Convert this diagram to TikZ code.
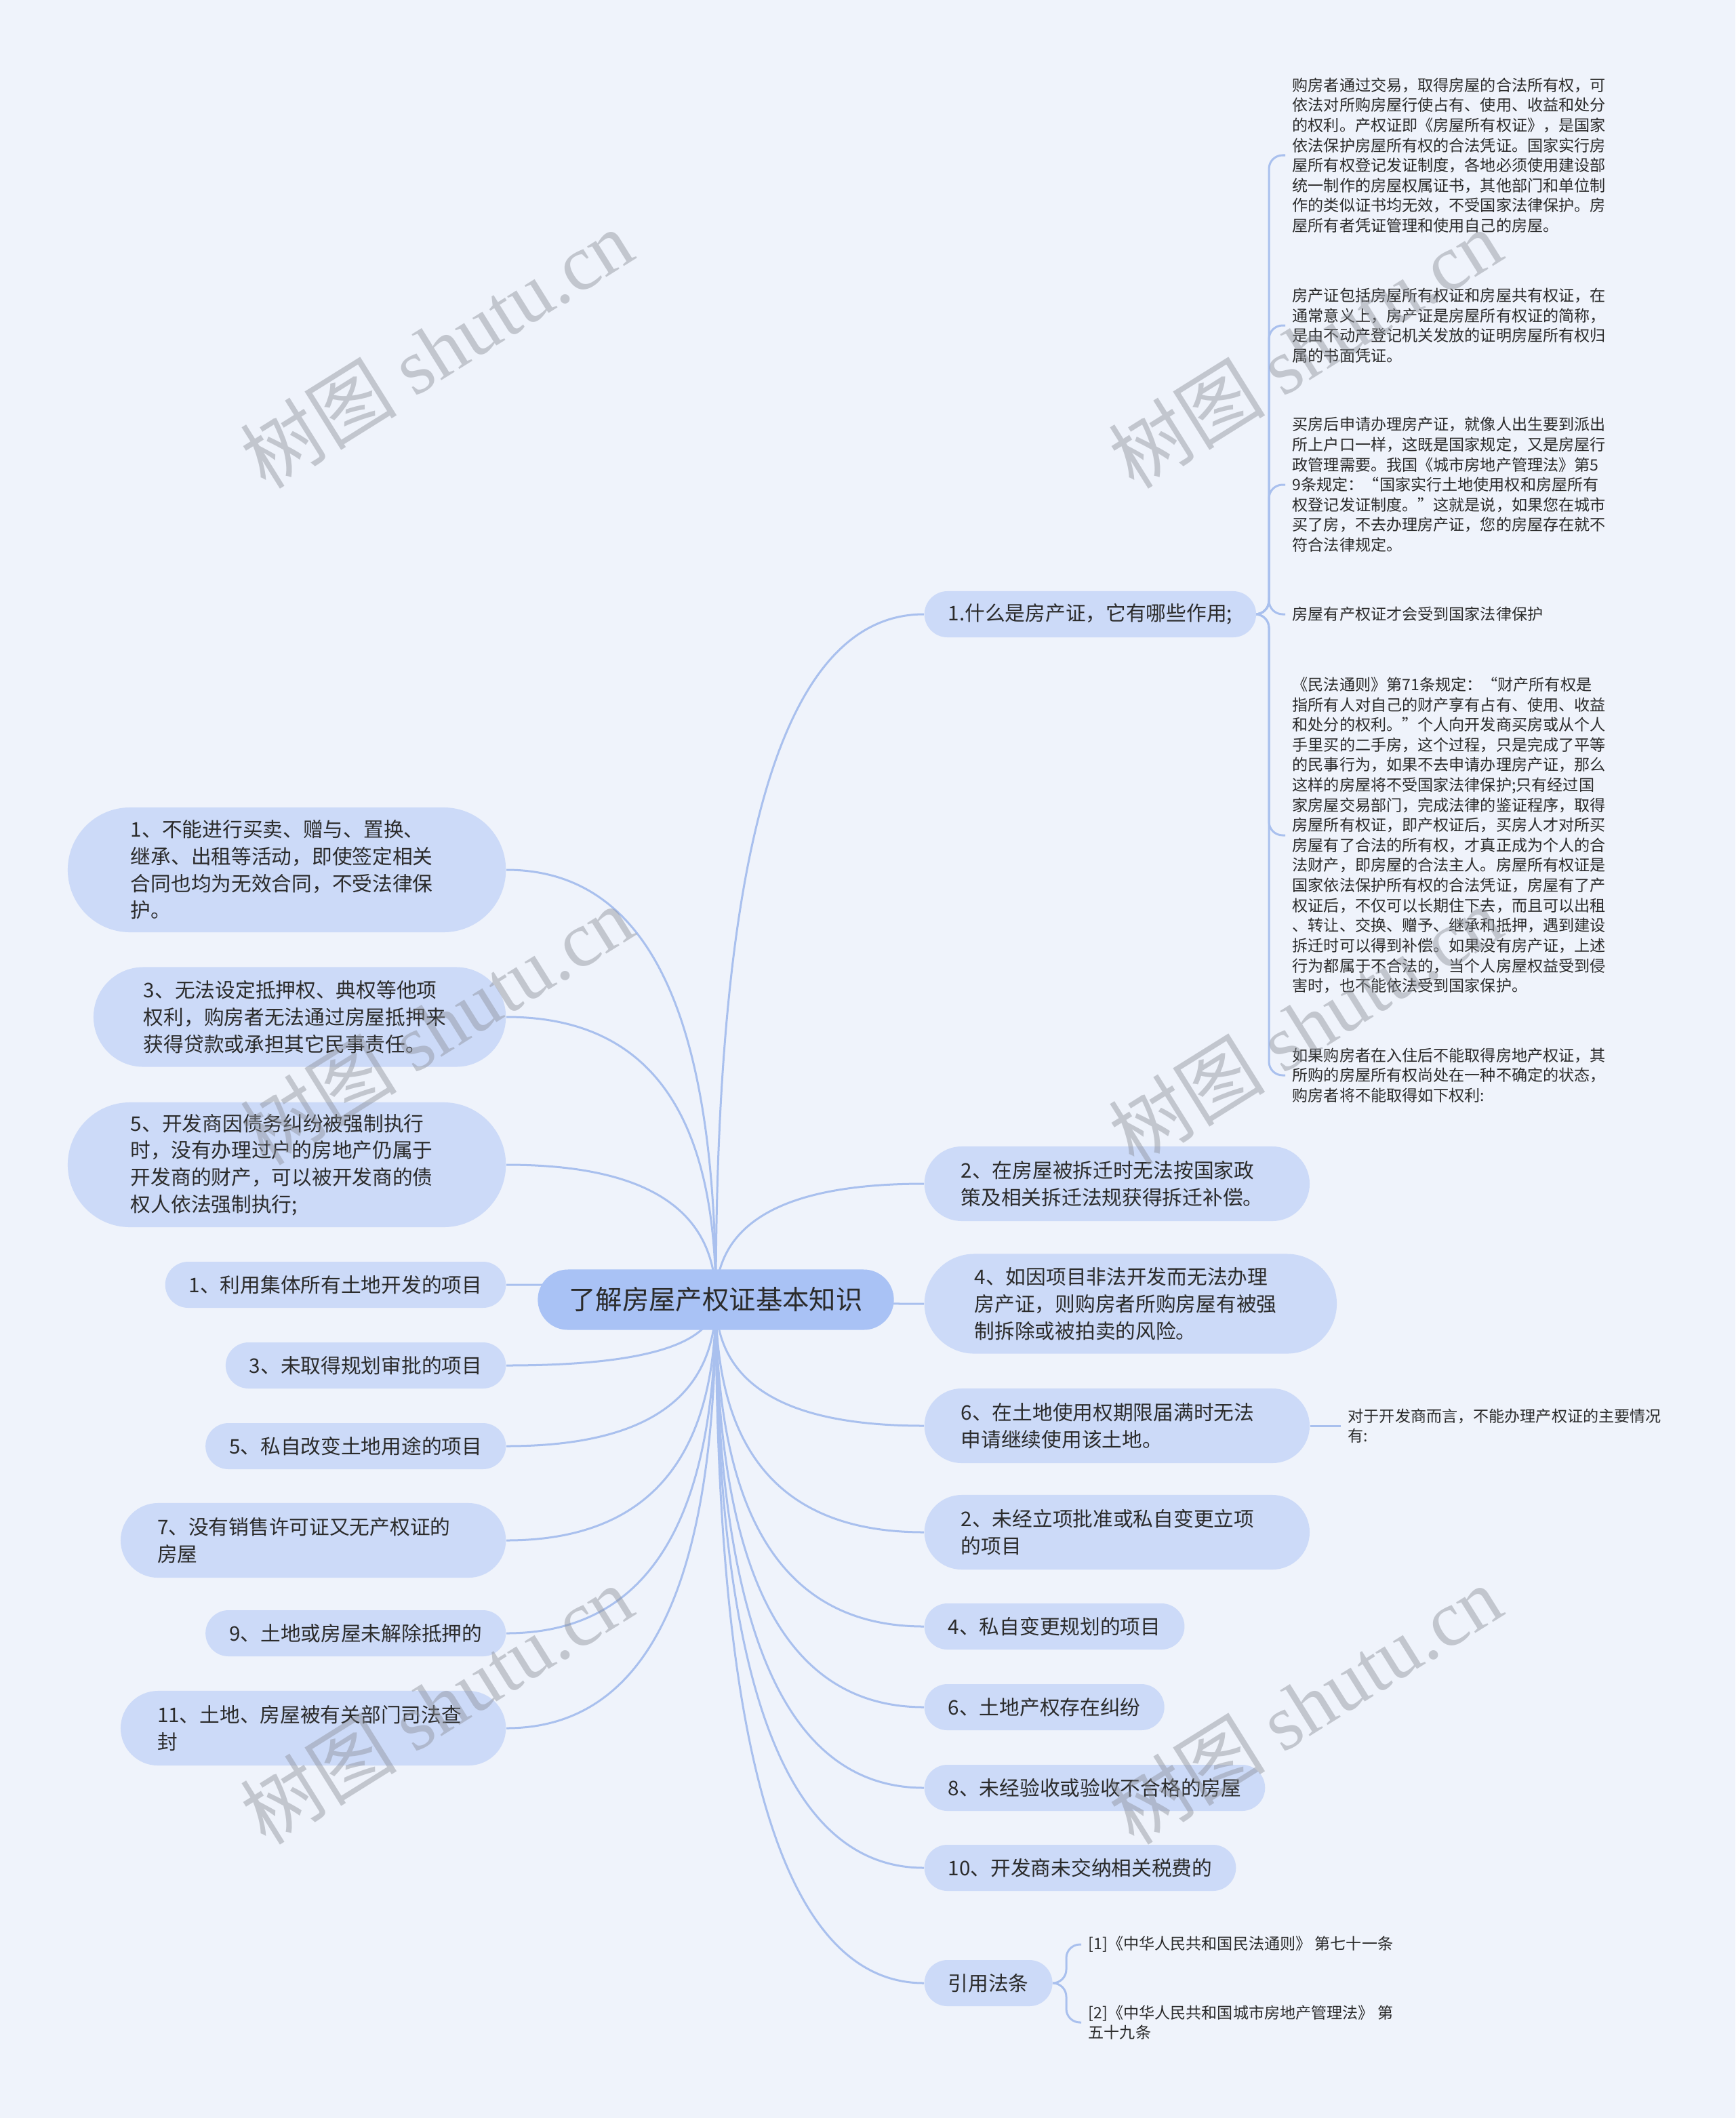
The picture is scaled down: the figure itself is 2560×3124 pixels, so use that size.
\documentclass[tikz,border=0pt]{standalone}
\usepackage{fontspec}
\setmainfont{Noto Sans CJK SC}
\newfontfamily\wmserif{Liberation Serif}
\usetikzlibrary{calc,backgrounds}
\definecolor{PageBg}{HTML}{EFF3FB}
\definecolor{TopicFill}{HTML}{CCDAF8}
\definecolor{RootFill}{HTML}{A9C2F5}
\definecolor{LinkBlue}{HTML}{A9C0EE}
\definecolor{InkGray}{HTML}{2B2B2B}
\definecolor{MarkGray}{HTML}{8C9099}

% curved branch from the central topic to a side topic
\newcommand\branch[2]{\draw[link] (#1) .. controls ($(#1)!.67!(#1 |- #2)$) and ($(#2)!.67!(#1 |- #2)$) .. (#2);}

\tikzset{
  topic/.style={fill=TopicFill,text=InkGray,font=\fontsize{8.45}{11.3}\selectfont,
        align=left,inner ysep=.1cm},
  oneline/.style={topic,minimum height=.68cm,rounded corners=.34cm,inner xsep=.35cm},
  twoline/.style={topic,text width=4.6cm,minimum height=1.1cm,rounded corners=.55cm,inner xsep=.54cm},
  threeline/.style={topic,text width=4.6cm,minimum height=1.47cm,rounded corners=.735cm,inner xsep=.74cm},
  fourline/.style={topic,text width=4.6cm,minimum height=1.84cm,rounded corners=.92cm,inner xsep=.93cm},
  leaf/.style={anchor=west,align=left,inner sep=.1cm,text=InkGray,font=\fontsize{6.57}{8.42}\selectfont},
  link/.style={draw=LinkBlue,line width=.03cm},
  watermark/.style={rotate=32,text=MarkGray,opacity=.45,font=\fontsize{33}{33}\selectfont}
}

\begin{document}
\begin{tikzpicture}[x=.01cm,y=-.01cm]
  \useasboundingbox (0,0) rectangle (2560,3124);

  % tema central
  \node[fill=RootFill,text=InkGray,rounded corners=.445cm,minimum height=.89cm,
        inner xsep=.46cm,font=\fontsize{11.2}{14}\selectfont] (root) at (1056,1917) {了解房屋产权证基本知识};

  % lado derecho
  \node[oneline,anchor=west] (R1) at (1363,906) {1.什么是房产证，它有哪些作用;};
  \node[twoline,anchor=west] (R2) at (1363,1746) {2、在房屋被拆迁时无法按国家政\\策及相关拆迁法规获得拆迁补偿。};
  \node[threeline,anchor=west] (R3) at (1363,1923) {4、如因项目非法开发而无法办理\\房产证，则购房者所购房屋有被强\\制拆除或被拍卖的风险。};
  \node[twoline,anchor=west] (R4) at (1363,2103) {6、在土地使用权期限届满时无法\\申请继续使用该土地。};
  \node[twoline,anchor=west] (R5) at (1363,2260) {2、未经立项批准或私自变更立项\\的项目};
  \node[oneline,anchor=west] (R6) at (1363,2399) {4、私自变更规划的项目};
  \node[oneline,anchor=west] (R7) at (1363,2518) {6、土地产权存在纠纷};
  \node[oneline,anchor=west] (R8) at (1363,2637) {8、未经验收或验收不合格的房屋};
  \node[oneline,anchor=west] (R9) at (1363,2755) {10、开发商未交纳相关税费的};
  \node[oneline,anchor=west] (R10) at (1363,2925) {引用法条};

  % lado izquierdo
  \node[fourline,anchor=east] (L1) at (747,1283) {1、不能进行买卖、赠与、置换、\\继承、出租等活动，即使签定相关\\合同也均为无效合同，不受法律保\\护。};
  \node[threeline,anchor=east] (L2) at (747,1500) {3、无法设定抵押权、典权等他项\\权利，购房者无法通过房屋抵押来\\获得贷款或承担其它民事责任。};
  \node[fourline,anchor=east] (L3) at (747,1718) {5、开发商因债务纠纷被强制执行\\时，没有办理过户的房地产仍属于\\开发商的财产，可以被开发商的债\\权人依法强制执行;};
  \node[oneline,anchor=east] (L4) at (747,1895) {1、利用集体所有土地开发的项目};
  \node[oneline,anchor=east] (L5) at (747,2014) {3、未取得规划审批的项目};
  \node[oneline,anchor=east] (L6) at (747,2133) {5、私自改变土地用途的项目};
  \node[twoline,anchor=east] (L7) at (747,2272) {7、没有销售许可证又无产权证的\\房屋};
  \node[oneline,anchor=east] (L8) at (747,2409) {9、土地或房屋未解除抵押的};
  \node[twoline,anchor=east] (L9) at (747,2549) {11、土地、房屋被有关部门司法查\\封};

  % hojas de 1.
  \node[leaf] (K1) at (1896,229) {购房者通过交易，取得房屋的合法所有权，可\\依法对所购房屋行使占有、使用、收益和处分\\的权利。产权证即《房屋所有权证》，是国家\\依法保护房屋所有权的合法凭证。国家实行房\\屋所有权登记发证制度，各地必须使用建设部\\统一制作的房屋权属证书，其他部门和单位制\\作的类似证书均无效，不受国家法律保护。房\\屋所有者凭证管理和使用自己的房屋。};
  \node[leaf] (K2) at (1896,480) {房产证包括房屋所有权证和房屋共有权证，在\\通常意义上，房产证是房屋所有权证的简称，\\是由不动产登记机关发放的证明房屋所有权归\\属的书面凭证。};
  \node[leaf] (K3) at (1896,715) {买房后申请办理房产证，就像人出生要到派出\\所上户口一样，这既是国家规定，又是房屋行\\政管理需要。我国《城市房地产管理法》第5\\9条规定：“国家实行土地使用权和房屋所有\\权登记发证制度。”这就是说，如果您在城市\\买了房，不去办理房产证，您的房屋存在就不\\符合法律规定。};
  \node[leaf] (K4) at (1896,906) {房屋有产权证才会受到国家法律保护};
  \node[leaf] (K5) at (1896,1232) {《民法通则》第71条规定：“财产所有权是\\指所有人对自己的财产享有占有、使用、收益\\和处分的权利。”个人向开发商买房或从个人\\手里买的二手房，这个过程，只是完成了平等\\的民事行为，如果不去申请办理房产证，那么\\这样的房屋将不受国家法律保护;只有经过国\\家房屋交易部门，完成法律的鉴证程序，取得\\房屋所有权证，即产权证后，买房人才对所买\\房屋有了合法的所有权，才真正成为个人的合\\法财产，即房屋的合法主人。房屋所有权证是\\国家依法保护所有权的合法凭证，房屋有了产\\权证后，不仅可以长期住下去，而且可以出租\\、转让、交换、赠予、继承和抵押，遇到建设\\拆迁时可以得到补偿。如果没有房产证，上述\\行为都属于不合法的，当个人房屋权益受到侵\\害时，也不能依法受到国家保护。};
  \node[leaf] (K6) at (1896,1586) {如果购房者在入住后不能取得房地产权证，其\\所购的房屋所有权尚处在一种不确定的状态，\\购房者将不能取得如下权利:};

  \node[leaf] (C1) at (1978,2103) {对于开发商而言，不能办理产权证的主要情况\\有:};
  \node[leaf] (F1) at (1595,2868) {[1]《中华人民共和国民法通则》 第七十一条};
  \node[leaf] (F2) at (1595,2983) {[2]《中华人民共和国城市房地产管理法》 第\\五十九条};

  \coordinate (spineK) at (1872,906);
  \coordinate (spineF) at (1573,2925);

  \begin{scope}[on background layer]
    \fill[PageBg] (0,0) rectangle (2560,3124);
    \foreach \t in {R1,R2,R3,R4,R5,R6,R7,R8,R9,R10}{\branch{root.center}{\t.west}}
    \foreach \t in {L1,L2,L3,L4,L5,L6,L7,L8,L9}{\branch{root.center}{\t.east}}
    \foreach \t in {K1,K2,K3,K4,K5,K6}{\draw[link,rounded corners=.2cm] (R1.east) -- (spineK) |- (\t.west);}
    \draw[link] (R4.east) -- (C1.west);
    \foreach \t in {F1,F2}{\draw[link,rounded corners=.2cm] (R10.east) -- (spineF) |- (\t.west);}
  \end{scope}

  % marcas de agua
  \foreach \wx/\wy in {644/514,1925/514,644/1512,1925/1512,644/2514,1925/2514}
    \node[watermark] at (\wx,\wy) {树图 {\wmserif shutu.cn}};
\end{tikzpicture}
\end{document}
